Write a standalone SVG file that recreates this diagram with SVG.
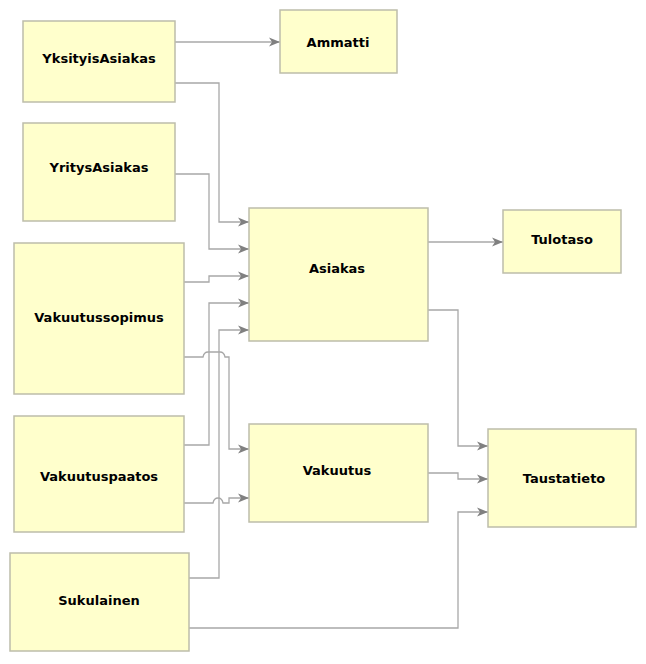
<svg xmlns="http://www.w3.org/2000/svg" width="646" height="664" viewBox="0 0 646 664">
<style>
.n rect{fill:#ffffcc;stroke:#bdbdaa;stroke-width:1.5}
.n text{font-family:"DejaVu Sans",sans-serif;font-weight:bold;font-size:13px;fill:#000;text-anchor:middle;dominant-baseline:central}
.c path{fill:none;stroke:#a8a8a8;stroke-width:1.3;marker-end:url(#a)}
</style>
<defs>
<marker id="a" markerUnits="userSpaceOnUse" markerWidth="12" markerHeight="10" refX="11" refY="5" orient="auto">
<path d="M0,0.5 L11,5 L0,9.5 L3,5 z" fill="#808080"/>
</marker>
</defs>
<rect width="646" height="664" fill="#fff"/>
<g class="c">
<path d="M175,42 H280"/>
<path d="M175,83 H219 V222 H249"/>
<path d="M175,174 H209 V249 H249"/>
<path d="M184,282 H209 V276 H249"/>
<path d="M184,445 H209 V303 H249"/>
<path d="M189,578 H219 V330 H249"/>
<path d="M184,357 H203 Q204,352 208,352 H220 Q224,352 225,357 H229 V449 H249"/>
<path d="M184,503 H213 Q214,498 218,498 Q222,498 223,503 H229 V498 H249"/>
<path d="M428,242 H503"/>
<path d="M428,310 H458 V446 H488"/>
<path d="M428,473 H458 V479 H488"/>
<path d="M189,628 H458 V512 H488"/>
</g>
<g id="YksityisAsiakas" class="n"><rect x="23" y="21" width="152" height="81"/><text x="99" y="58">YksityisAsiakas</text></g>
<g id="Ammatti" class="n"><rect x="280" y="10" width="117" height="63"/><text x="338" y="42">Ammatti</text></g>
<g id="YritysAsiakas" class="n"><rect x="23" y="123" width="152" height="98"/><text x="99" y="167">YritysAsiakas</text></g>
<g id="Asiakas" class="n"><rect x="249" y="208" width="179" height="133"/><text x="337" y="268">Asiakas</text></g>
<g id="Tulotaso" class="n"><rect x="503" y="210" width="118" height="63"/><text x="562" y="239">Tulotaso</text></g>
<g id="Vakuutussopimus" class="n"><rect x="14" y="243" width="170" height="151"/><text x="99" y="317">Vakuutussopimus</text></g>
<g id="Vakuutus" class="n"><rect x="249" y="424" width="179" height="98"/><text x="337" y="470">Vakuutus</text></g>
<g id="Taustatieto" class="n"><rect x="488" y="429" width="148" height="98"/><text x="564" y="478">Taustatieto</text></g>
<g id="Vakuutuspaatos" class="n"><rect x="14" y="416" width="170" height="116"/><text x="99" y="476">Vakuutuspaatos</text></g>
<g id="Sukulainen" class="n"><rect x="10" y="553" width="179" height="98"/><text x="99" y="600">Sukulainen</text></g>
</svg>
